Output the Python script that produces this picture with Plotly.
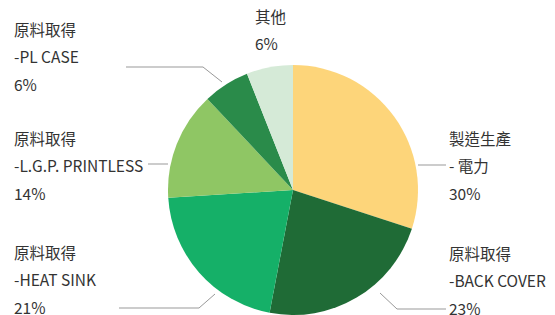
import plotly.graph_objects as go

categories = ["製造生產\n- 電力", "原料取得\n-BACK COVER", "原料取得\n-HEAT SINK",
              "原料取得\n-L.G.P. PRINTLESS", "原料取得\n-PL CASE", "其他"]
values = [30, 23, 21, 14, 6, 6]
colors = ["#FDD57A", "#1F6B36", "#15B068", "#8FC664", "#2A8B4A", "#D5EAD7"]

W, H = 555, 315

fig = go.Figure(go.Pie(
    labels=categories, values=values, sort=False, direction="clockwise", rotation=0,
    marker=dict(colors=colors, line=dict(width=0)), textinfo="none", hoverinfo="label+percent",
    domain=dict(x=[(293 - 125) / W, (293 + 125) / W], y=[1 - 315 / H, 1 - 65 / H]),
    showlegend=False,
))

def px(x):
    return x / W

def py(y):
    return 1 - y / H

# label text blocks: (left x, first line y center)
label_pos = [(447, 138), (447, 253), (12, 252), (12, 29), (12, 138), (253, 16)]
label_pos = [label_pos[0], label_pos[1], label_pos[2], label_pos[4], label_pos[3], label_pos[5]]
FONT = dict(family="Noto Sans CJK TC, Noto Sans, sans-serif", size=15.5, color="#333333")
for cat, val, (lx, ly) in zip(categories, values, label_pos):
    lines = cat.split("\n") + [f"{val}%"]
    for i, t in enumerate(lines):
        fig.add_annotation(x=px(lx), y=py(ly + i * 27.3), xref="paper", yref="paper",
                           text=t, showarrow=False, xanchor="left", yanchor="middle", font=FONT)

# leader lines
leaders = [
    [(418, 165), (446, 165)],
    [(380, 293), (397, 309), (446, 309)],
    [(215, 294), (199, 308), (119, 308)],
    [(168, 164), (148, 164)],
    [(222, 82), (203, 67), (126, 67)],
]
for pts in leaders:
    d = "M " + " L ".join(f"{px(x)},{py(y)}" for x, y in pts)
    fig.add_shape(type="path", path=d, xref="paper", yref="paper",
                  line=dict(color="#999999", width=1))

fig.update_layout(width=W, height=H, margin=dict(l=0, r=0, t=0, b=0),
                  paper_bgcolor="white", plot_bgcolor="white")
fig.write_html("out.html", config={"displayModeBar": False},
               post_script="document.body.style.margin='0';document.body.style.overflow='hidden';")
